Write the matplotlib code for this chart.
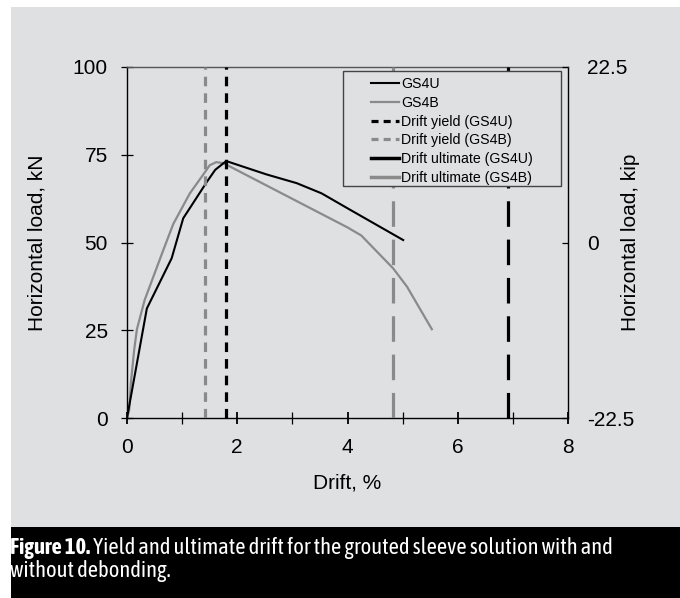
import matplotlib
matplotlib.use("Agg")
import matplotlib.pyplot as plt
from matplotlib import font_manager as fm
from matplotlib.patches import Rectangle
from matplotlib.lines import Line2D
from matplotlib.ticker import MultipleLocator, FixedLocator

# ---------------- data ----------------
drift_gs4u = [0, 0.36, 0.81, 1.02, 1.45, 1.6, 1.8, 2.53, 3.08, 3.53, 4.05, 5.01]
load_gs4u = [0, 31.2, 45.5, 56.9, 67.3, 70.7, 73.2, 69.4, 66.9, 64.0, 59.3, 50.7]

drift_gs4b = [0, 0.04, 0.07, 0.13, 0.18, 0.32, 0.66, 0.84, 1.14, 1.39, 1.5, 1.62,
              1.75, 4.0, 4.25, 4.83, 5.08, 5.53]
load_gs4b = [0, 2.3, 9.9, 19.4, 25.3, 33.6, 47.9, 55.3, 64.0, 69.5, 72.0, 72.9,
             72.6, 54.3, 52.0, 42.6, 37.4, 25.3]

yield_gs4u = 1.8
yield_gs4b = 1.41
ult_gs4u = 6.92
ult_gs4b = 4.82

left_ticks = [0, 25, 50, 75, 100]
right_ticks = [0, 50, 100]
right_labels = ["-22.5", "0", "22.5"]
x_major = [0, 2, 4, 6, 8]

labels = ["GS4U", "GS4B", "Drift yield (GS4U)", "Drift yield (GS4B)",
          "Drift ultimate (GS4U)", "Drift ultimate (GS4B)"]

caption_bold = "Figure 10."
caption_rest = " Yield and ultimate drift for the grouted sleeve solution with and"
caption_line2 = "without debonding."

# ---------------- fonts ----------------
ttf = fm.fontManager.ttflist
names = {f.name for f in ttf}
chart_font = "Liberation Sans" if "Liberation Sans" in names else "DejaVu Sans"


def _weight(f):
    w = f.weight
    if isinstance(w, str):
        w = fm.weight_dict.get(w, 400)
    return w


cap_font = chart_font
cands = [n for n in sorted(names) if ("Narrow" in n or "Condensed" in n)]
cands.sort(key=lambda n: (0 if "Liberation Sans Narrow" in n else 1, n))
for n in cands:
    ws = [_weight(f) for f in ttf if f.name == n]
    if any(w >= 600 for w in ws) and any(380 <= w <= 500 for w in ws):
        cap_font = n
        break
else:
    if cands:
        cap_font = cands[0]
plt.rcParams["font.family"] = [chart_font, "DejaVu Sans"]

W, H = 680, 598
fig = plt.figure(figsize=(W / 100, H / 100), dpi=100)
fig.patch.set_facecolor("white")

bg = "#dfe0e2"
fig.add_artist(Rectangle((11 / W, 1 - 527 / H), 1 - 11 / W, (527 - 7) / H,
                         transform=fig.transFigure, facecolor=bg, edgecolor="none", zorder=0))
fig.add_artist(Rectangle((11 / W, 0), 1 - 11 / W, (598 - 527) / H,
                         transform=fig.transFigure, facecolor="black", edgecolor="none", zorder=0))

ax = fig.add_axes([127 / W, 1 - 418 / H, (568 - 127) / W, (418 - 67) / H])
ax.set_facecolor(bg)
ax.set_xlim(0, 8)
ax.set_ylim(0, 100)

gray = "#8a8a8a"
ax.plot(drift_gs4u, load_gs4u, color="black", lw=1.5, zorder=4)
ax.plot(drift_gs4b, load_gs4b, color=gray, lw=1.6, zorder=3)
ax.plot([yield_gs4u, yield_gs4u], [0, 100], color="black", lw=2.3, dashes=(3, 2.2), zorder=5)
ax.plot([yield_gs4b, yield_gs4b], [0, 100], color=gray, lw=2.3, dashes=(3, 2.2), zorder=5)
ax.plot([ult_gs4u, ult_gs4u], [0, 100], color="black", lw=2.3, dashes=(8, 4), zorder=5)
ax.plot([ult_gs4b, ult_gs4b], [0, 100], color=gray, lw=2.3, dashes=(8, 4), zorder=5)

for s in ["left", "bottom", "right"]:
    ax.spines[s].set_color("black")
    ax.spines[s].set_linewidth(1.0)
ax.spines["top"].set_color("#555555")
ax.spines["top"].set_linewidth(1.0)

fs = 15
ax.xaxis.set_major_locator(FixedLocator(x_major))
ax.xaxis.set_minor_locator(MultipleLocator(1))
ax.yaxis.set_major_locator(FixedLocator(left_ticks))
ax.tick_params(axis="x", which="major", direction="inout", length=8.5, width=1.3,
               labelsize=fs, pad=10, top=False)
ax.tick_params(axis="x", which="minor", direction="inout", length=8.5, width=0.9, top=False)
ax.tick_params(axis="y", which="major", direction="inout", length=8.5, width=0.9,
               labelsize=fs, pad=9.5, right=False)
ax.set_xlabel("Drift, %", fontsize=fs, labelpad=12)
ax.set_ylabel("Horizontal load, kN", fontsize=fs)
ax.yaxis.set_label_coords((47 - 127) / 441, 0.5)

ax2 = ax.twinx()
ax2.set_ylim(0, 100)
ax2.yaxis.set_major_locator(FixedLocator(right_ticks))
ax2.set_yticklabels(right_labels)
ax2.tick_params(axis="y", direction="in", length=4.5, width=0.9, labelsize=fs, pad=14)
ax2.set_ylabel("Horizontal load, kip", fontsize=fs)
ax2.yaxis.set_label_coords((621 - 127) / 441, 0.5)
for s in ax2.spines.values():
    s.set_visible(False)

# legend: frame drawn separately (handles sit well inside the box)
ax.add_patch(Rectangle(((343 - 127) / 441, (418 - 186) / 351), (561 - 343) / 441,
                       (186 - 71) / 351, transform=ax.transAxes, facecolor=bg,
                       edgecolor="#444444", lw=1.0, zorder=6))
handles = [
    Line2D([], [], color="black", lw=1.5),
    Line2D([], [], color=gray, lw=1.6),
    Line2D([], [], color="black", lw=2.3, dashes=(2.2, 1.6)),
    Line2D([], [], color=gray, lw=2.3, dashes=(2.2, 1.6)),
    Line2D([], [], color="black", lw=2.5),
    Line2D([], [], color=gray, lw=2.5),
]
leg = ax.legend(handles, labels, loc="upper left",
                bbox_to_anchor=((371 - 127) / 441, 1 - (77 - 67) / 351),
                fontsize=10.2, frameon=False,
                handlelength=2.0, handletextpad=0.15, labelspacing=0.34,
                borderpad=0.0, borderaxespad=0)
leg.set_zorder(7)

# caption
cap_fs = 12.5
kw = dict(color="white", family=[cap_font, "DejaVu Sans"], va="center", ha="left")
t1 = fig.text(10 / W, 1 - 548 / H, caption_bold, fontsize=cap_fs, fontweight="bold", **kw)
fig.canvas.draw()
bb = t1.get_window_extent()
t2 = fig.text(bb.x1 / W, 1 - 548 / H, caption_rest, fontsize=cap_fs, **kw)
fig.canvas.draw()
width = t2.get_window_extent().x1 - 10
scale = (612 - 10) / width
cap_fs *= scale
t1.set_fontsize(cap_fs)
fig.canvas.draw()
bb = t1.get_window_extent()
t2.set_fontsize(cap_fs)
t2.set_x(bb.x1 / W)
fig.text(10 / W, 1 - 571 / H, caption_line2, fontsize=cap_fs, **kw)

fig.savefig("out.png", dpi=100, facecolor="white")
